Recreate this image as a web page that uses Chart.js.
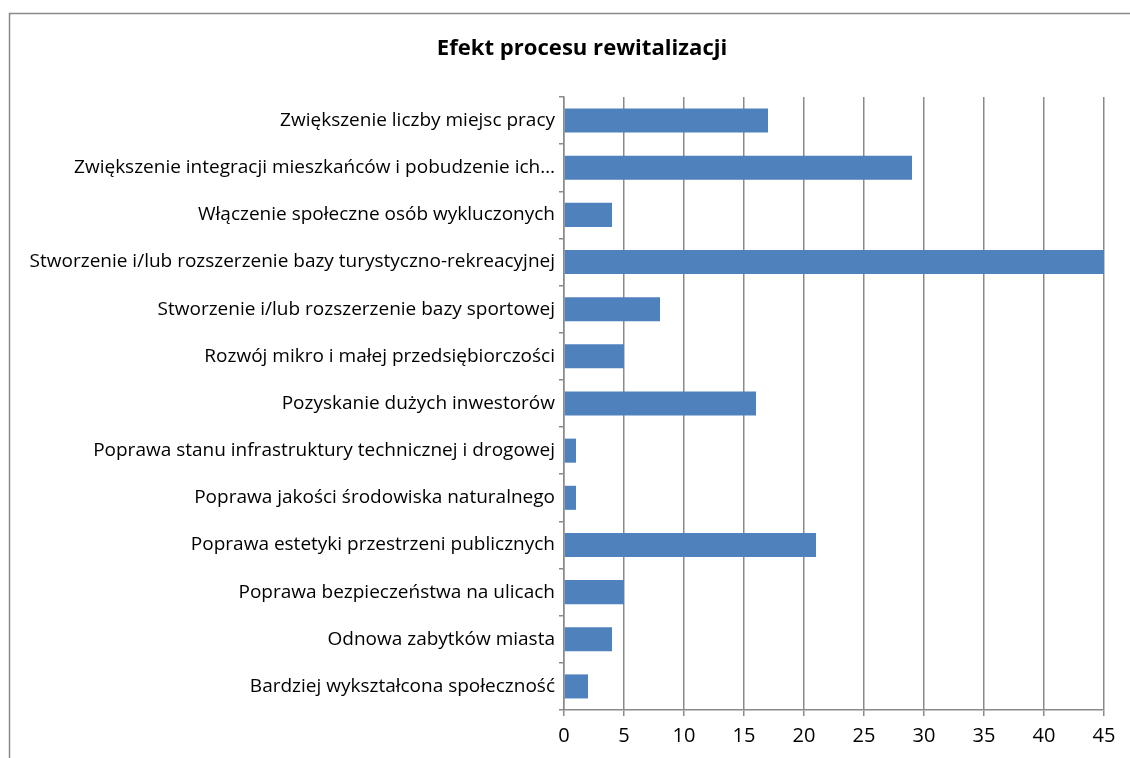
<!DOCTYPE html>
<html>
<head>
<meta charset="utf-8">
<script src="https://cdn.jsdelivr.net/npm/chart.js@4/dist/chart.umd.min.js"></script>
<style>
  html, body { margin: 0; padding: 0; background: #fff; }
  #wrap { position: relative; width: 1130px; height: 758px; }
</style>
</head>
<body>
<div id="wrap"><canvas id="c" width="1130" height="758"></canvas></div>
<script>
const chartTitle = 'Efekt procesu rewitalizacji';

const categories = [
  'Zwiększenie liczby miejsc pracy',
  'Zwiększenie integracji mieszkańców i pobudzenie ich…',
  'Włączenie społeczne osób wykluczonych',
  'Stworzenie i/lub rozszerzenie bazy turystyczno-rekreacyjnej',
  'Stworzenie i/lub rozszerzenie bazy sportowej',
  'Rozwój mikro i małej przedsiębiorczości',
  'Pozyskanie dużych inwestorów',
  'Poprawa stanu infrastruktury technicznej i drogowej',
  'Poprawa jakości środowiska naturalnego',
  'Poprawa estetyki przestrzeni publicznych',
  'Poprawa bezpieczeństwa na ulicach',
  'Odnowa zabytków miasta',
  'Bardziej wykształcona społeczność'
];

const counts = [17, 29, 4, 45, 8, 5, 16, 1, 1, 21, 5, 4, 2];

const xTicks = [0, 5, 10, 15, 20, 25, 30, 35, 40, 45];

const FONT = '"Open Sans", Lato, sans-serif';
const GRID = '#8a8a8a';

// pick a font size so that a string spans the wanted width
function fitSize(text, weight, wanted) {
  const ctx = document.createElement('canvas').getContext('2d');
  ctx.font = weight + ' 20px ' + FONT;
  return Math.round(20 * wanted / ctx.measureText(text).width * 10) / 10;
}
const labelSize = fitSize(categories[3], 'normal', 525);
const titleSize = fitSize(chartTitle, 'bold', 290);

// outer frame (left and top edges) and centred bold title
const framePlugin = {
  id: 'frame',
  beforeDraw(chart) {
    const ctx = chart.ctx;
    ctx.save();
    ctx.strokeStyle = '#8a8a8a';
    ctx.lineWidth = 1.5;
    ctx.beginPath();
    ctx.moveTo(9.5, 758);
    ctx.lineTo(9.5, 13.5);
    ctx.lineTo(1130, 13.5);
    ctx.stroke();
    ctx.fillStyle = '#000';
    ctx.font = 'bold ' + titleSize + 'px ' + FONT;
    ctx.textAlign = 'center';
    ctx.textBaseline = 'middle';
    ctx.fillText(chartTitle, 582, 49);
    ctx.restore();
  }
};

new Chart(document.getElementById('c'), {
  type: 'bar',
  data: {
    labels: categories,
    datasets: [{
      data: counts,
      backgroundColor: '#4f81bd',
      borderWidth: 0,
      barPercentage: 0.51,
      categoryPercentage: 1.0
    }]
  },
  options: {
    indexAxis: 'y',
    responsive: false,
    animation: false,
    devicePixelRatio: 1,
    layout: { padding: { top: 97, right: 26, left: 0, bottom: 0 } },
    plugins: {
      legend: { display: false },
      title: { display: false },
      tooltip: { enabled: false }
    },
    scales: {
      x: {
        min: 0,
        max: 45,
        afterBuildTicks(scale) { scale.ticks = xTicks.map(v => ({ value: v })); },
        afterFit(scale) { scale.height = 48; },
        grid: { color: GRID, lineWidth: 1.5, tickLength: 6, drawTicks: true },
        border: { color: GRID, width: 1.5 },
        ticks: { color: '#000', font: { family: FONT, size: labelSize + 1 }, padding: 8 }
      },
      y: {
        afterFit(scale) { scale.width = 564; },
        grid: { display: true, drawOnChartArea: false, offset: true, color: GRID, lineWidth: 1.5, tickLength: 5 },
        border: { color: GRID, width: 1.5 },
        ticks: { color: '#000', font: { family: FONT, size: labelSize }, padding: 4, autoSkip: false }
      }
    }
  },
  plugins: [framePlugin]
});
</script>
</body>
</html>
